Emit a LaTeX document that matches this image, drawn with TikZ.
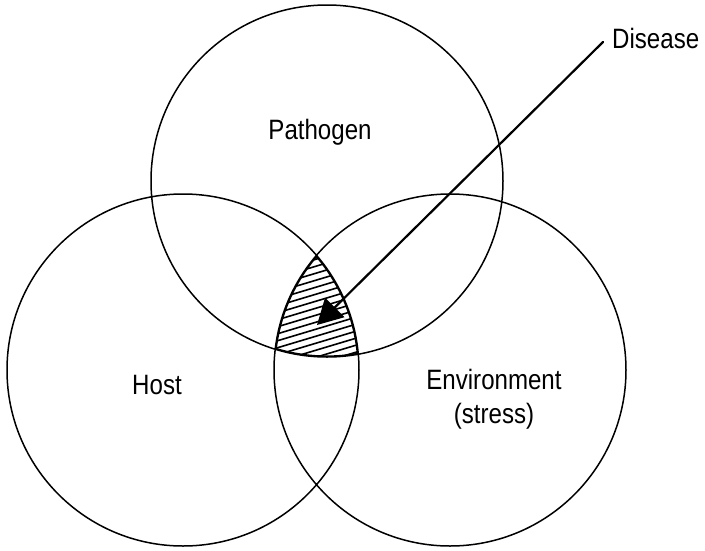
\documentclass[tikz,border=0pt]{standalone}
\usepackage{fontspec}
\setmainfont{Liberation Sans}[FakeStretch=0.86]
\usetikzlibrary{arrows.meta}

\begin{document}
\begin{tikzpicture}[x=1pt,y=-1pt,>={Triangle[length=25pt,width=27pt]},
	font=\fontsize{28}{34}\selectfont, line join=round, line cap=round]
	\def\r{176}
	\useasboundingbox (0,0) rectangle (705,550);
	\coordinate (P) at (327,181);
	\coordinate (H) at (183,370);
	\coordinate (E) at (450,370);
	% hatched common part of the three rings
	\begin{scope}
		\clip (P) circle (\r);
		\clip (H) circle (\r);
		\clip (E) circle (\r);
		\foreach \y in {230,237,...,440}
		{\draw[line width=1.6pt] (250,\y)--(410,\y-48);}
		\draw[line width=3.2pt] (P) circle (\r) (H) circle (\r) (E) circle (\r);
	\end{scope}
	\draw[line width=1.5pt] (P) circle (\r) (H) circle (\r) (E) circle (\r);
	\node (pathogen) at (320,132) {Pathogen};
	\node (host) at (157,385) {Host};
	\node[align=center] (env) at (494,399) {Environment\\(stress)};
	\node[anchor=base west,inner sep=0pt] (disease) at (612,48) {Disease};
	\coordinate (dfrom) at (603,42);
	\coordinate (tip) at (317,325);
	\draw[->,line width=2.2pt] (dfrom)--(tip);
\end{tikzpicture}
\end{document}
